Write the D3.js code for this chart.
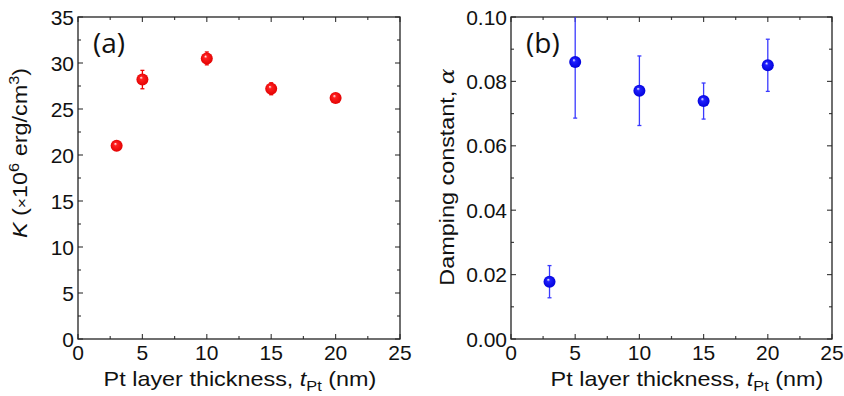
<!DOCTYPE html>
<html>
<head>
<meta charset="utf-8">
<script src="https://cdn.jsdelivr.net/npm/d3@7"></script>
<style>
  body { margin: 0; background: #fff; }
  text { font-family: "Liberation Sans", Arial, sans-serif; fill: #111; }
</style>
</head>
<body>
<svg id="mysvg"></svg>
<script>
const w = 844, h = 396;

// data
const thickness = [3, 5, 10, 15, 20];
const anisotropy = [21.0, 28.2, 30.5, 27.2, 26.2];
const anisotropyErr = [0.25, 1.0, 0.7, 0.65, 0.3];
const damping = [0.0178, 0.086, 0.0771, 0.0739, 0.085];
const dampingErr = [0.005, 0.0174, 0.0108, 0.0056, 0.0081];
const xTicks = [0, 5, 10, 15, 20, 25];
const kTicks = [0, 5, 10, 15, 20, 25, 30, 35];
const alphaTicks = [0, 0.02, 0.04, 0.06, 0.08, 0.10];

const svg = d3.select("#mysvg")
    .attr("width", w)
    .attr("height", h);

const defs = svg.append("defs");
function ballGradient(id, dark, mid) {
    const g = defs.append("radialGradient")
        .attr("id", id)
        .attr("cx", "0.5").attr("cy", "0.5").attr("r", "0.55")
        .attr("fx", "0.38").attr("fy", "0.32");
    g.append("stop").attr("offset", "0%").attr("stop-color", "#ffffff");
    g.append("stop").attr("offset", "25%").attr("stop-color", mid);
    g.append("stop").attr("offset", "100%").attr("stop-color", dark);
}
ballGradient("redBall", "#e00000", "#ff2020");
ballGradient("blueBall", "#0000d8", "#2020ff");

const stretch = 1.17;

function drawPanel(opt) {
    const g = svg.append("g");
    const x = d3.scaleLinear().domain([0, 25]).range([opt.left, opt.right]);
    const y = d3.scaleLinear().domain(opt.yDomain).range([opt.bottom, opt.top]);

    const clipId = "clip" + opt.name;
    defs.append("clipPath").attr("id", clipId)
        .append("rect")
        .attr("x", opt.left).attr("y", opt.top)
        .attr("width", opt.right - opt.left).attr("height", opt.bottom - opt.top);

    // minor ticks at half steps
    const xMinor = d3.range(2.5, 25, 5);
    const yStep = opt.yTicks[1] - opt.yTicks[0];
    const yMinor = opt.yTicks.slice(0, -1).map(v => v + yStep / 2);

    const tickColor = "#444";
    [[opt.bottom, -1], [opt.top, 1]].forEach(([yy, dir]) => {
        g.selectAll(null).data(xTicks).enter().append("line")
            .attr("x1", d => x(d)).attr("x2", d => x(d))
            .attr("y1", yy).attr("y2", yy + dir * 5)
            .attr("stroke", tickColor).attr("stroke-width", 1.2);
        g.selectAll(null).data(xMinor).enter().append("line")
            .attr("x1", d => x(d)).attr("x2", d => x(d))
            .attr("y1", yy).attr("y2", yy + dir * 3)
            .attr("stroke", tickColor).attr("stroke-width", 1.2);
    });
    [[opt.left, 1], [opt.right, -1]].forEach(([xx, dir]) => {
        g.selectAll(null).data(opt.yTicks).enter().append("line")
            .attr("y1", d => y(d)).attr("y2", d => y(d))
            .attr("x1", xx).attr("x2", xx + dir * 5)
            .attr("stroke", tickColor).attr("stroke-width", 1.2);
        g.selectAll(null).data(yMinor).enter().append("line")
            .attr("y1", d => y(d)).attr("y2", d => y(d))
            .attr("x1", xx).attr("x2", xx + dir * 3)
            .attr("stroke", tickColor).attr("stroke-width", 1.2);
    });

    // frame
    g.append("rect")
        .attr("x", opt.left).attr("y", opt.top)
        .attr("width", opt.right - opt.left).attr("height", opt.bottom - opt.top)
        .attr("fill", "none").attr("stroke", "#222").attr("stroke-width", 1.3);

    // tick labels
    g.selectAll(null).data(xTicks).enter().append("text")
        .attr("x", d => x(d)).attr("y", opt.bottom + 21)
        .attr("text-anchor", "middle")
        .attr("font-size", 21)
        .text(d => d);
    g.selectAll(null).data(opt.yTicks).enter().append("text")
        .attr("x", opt.left - 4).attr("y", d => y(d))
        .attr("dy", "0.36em")
        .attr("text-anchor", "end")
        .attr("font-size", 21)
        .text(d => opt.fmt(d));

    // x axis title
    const xt = g.append("text")
        .attr("transform", "translate(" + opt.xTitleX + ",386) scale(" + stretch + ",1)")
        .attr("text-anchor", "middle")
        .attr("font-size", 20);
    xt.append("tspan").text("Pt layer thickness, ");
    xt.append("tspan").attr("font-style", "italic").text("t");
    xt.append("tspan").attr("font-size", 14).attr("dy", 5).text("Pt");
    xt.append("tspan").attr("dy", -5).text(" (nm)");

    // y axis title
    const yt = g.append("text")
        .attr("transform", "translate(" + opt.yTitleX + "," + opt.yTitleY + ") rotate(-90) scale(" + stretch + ",1)")
        .attr("text-anchor", "middle")
        .attr("font-size", 20);
    opt.yTitle(yt);

    // panel label
    g.append("text")
        .attr("x", opt.left + 15).attr("y", 53)
        .attr("font-size", 28)
        .style("font-family", "'Open Sans', sans-serif")
        .text(opt.label);

    const data = thickness.map((t, i) => ({ t: t, v: opt.values[i], e: opt.errors[i] }));
    const bars = g.append("g").attr("clip-path", "url(#" + clipId + ")");
    bars.selectAll(".err").data(data).enter().append("line")
        .attr("class", "err")
        .attr("x1", d => x(d.t)).attr("x2", d => x(d.t))
        .attr("y1", d => y(d.v - d.e)).attr("y2", d => y(d.v + d.e))
        .attr("stroke", opt.errColor).attr("stroke-width", 1.3);
    [-1, 1].forEach(s => {
        bars.selectAll(null).data(data).enter().append("line")
            .attr("x1", d => x(d.t) - 2).attr("x2", d => x(d.t) + 2)
            .attr("y1", d => y(d.v + s * d.e)).attr("y2", d => y(d.v + s * d.e))
            .attr("stroke", opt.errColor).attr("stroke-width", 1.3);
    });
    g.selectAll(".dot").data(data).enter().append("circle")
        .attr("class", "dot")
        .attr("cx", d => x(d.t)).attr("cy", d => y(d.v))
        .attr("r", 6)
        .attr("fill", "url(#" + opt.ball + ")");
}

drawPanel({
    name: "a", left: 78, right: 400, top: 17, bottom: 339,
    yDomain: [0, 35], yTicks: kTicks, fmt: d => d,
    values: anisotropy, errors: anisotropyErr,
    ball: "redBall", errColor: "#f00000", label: "(a)",
    xTitleX: 240, yTitleX: 27, yTitleY: 153,
    yTitle: t => {
        t.append("tspan").attr("font-style", "italic").text("K");
        t.append("tspan").text(" (");
        t.append("tspan").attr("font-size", 15).text("×");
        t.append("tspan").text("10");
        t.append("tspan").attr("font-size", 14).attr("dy", -8).text("6");
        t.append("tspan").attr("dy", 8).text(" erg/cm");
        t.append("tspan").attr("font-size", 14).attr("dy", -8).text("3");
        t.append("tspan").attr("dy", 8).text(")");
    }
});

drawPanel({
    name: "b", left: 511, right: 832, top: 17, bottom: 339,
    yDomain: [0, 0.1], yTicks: alphaTicks, fmt: d3.format(".2f"),
    values: damping, errors: dampingErr,
    ball: "blueBall", errColor: "#3a3aff", label: "(b)",
    xTitleX: 687, yTitleX: 454, yTitleY: 177,
    yTitle: t => {
        t.append("tspan").text("Damping constant, ");
        t.append("tspan").attr("font-style", "italic")
            .style("font-family", "'DejaVu Serif', serif").text("α");
    }
});
</script>
</body>
</html>
